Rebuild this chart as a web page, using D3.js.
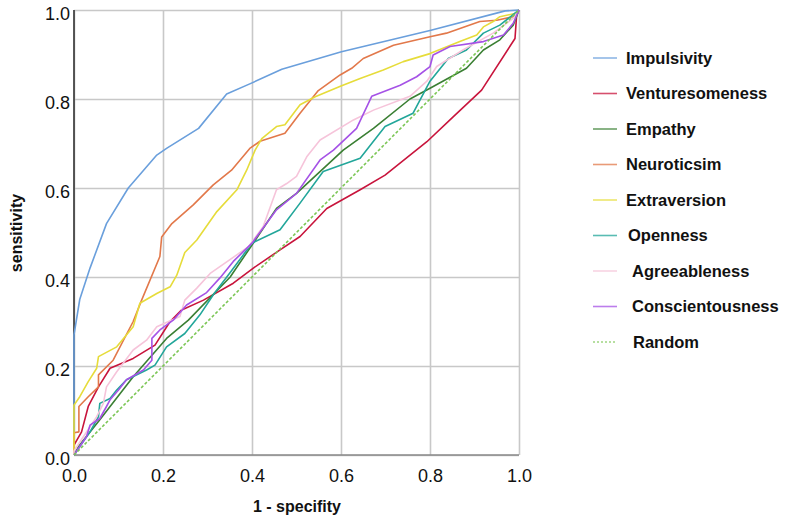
<!DOCTYPE html>
<meta charset="utf-8">
<style>
body { margin: 0; background: #fff; }
.grid line { stroke: #c8c8c8; stroke-width: 1.6; }
.grid path { display: none; }
.tick text { font-family: "Liberation Sans", Arial, sans-serif; font-size: 18px; fill: #111; }
.series { fill: none; stroke-width: 1.6; stroke-linejoin: round; }
.legend text { font-family: "Liberation Sans", Arial, sans-serif; font-weight: bold; font-size: 16.5px; fill: #111; }
.title { font-family: "Liberation Sans", Arial, sans-serif; font-weight: bold; font-size: 16px; fill: #111; }
</style>
<svg width="785" height="522"></svg>
<script src="https://cdn.jsdelivr.net/npm/d3@7"></script>
<script>

// ROC points [1 - specificity, sensitivity]
var impulsivity = [[0,0],[0,0.27],[0.013,0.35],[0.036,0.42],[0.073,0.52],[0.122,0.60],[0.186,0.674],[0.208,0.689],[0.28,0.734],[0.343,0.811],[0.395,0.834],[0.467,0.867],[0.601,0.906],[0.80,0.954],[0.969,0.998],[1,1]];
var venturesomeness = [[0,0],[0,0.022],[0.017,0.052],[0.032,0.109],[0.055,0.153],[0.081,0.195],[0.133,0.217],[0.182,0.247],[0.216,0.30],[0.242,0.326],[0.291,0.348],[0.358,0.386],[0.403,0.42],[0.463,0.461],[0.508,0.491],[0.568,0.554],[0.643,0.596],[0.699,0.629],[0.793,0.704],[0.852,0.76],[0.916,0.82],[0.991,0.936],[0.995,0.993],[1,1]];
var empathy = [[0,0],[0.01,0.019],[0.058,0.079],[0.133,0.176],[0.208,0.262],[0.257,0.303],[0.351,0.40],[0.40,0.472],[0.455,0.554],[0.50,0.588],[0.605,0.685],[0.673,0.734],[0.755,0.80],[0.80,0.824],[0.882,0.869],[0.92,0.91],[0.957,0.933],[0.987,0.966],[1,1]];
var neuroticsim = [[0,0],[0,0.05],[0.011,0.052],[0.011,0.109],[0.032,0.131],[0.055,0.153],[0.055,0.18],[0.088,0.213],[0.133,0.30],[0.152,0.348],[0.193,0.446],[0.197,0.49],[0.22,0.52],[0.268,0.562],[0.313,0.607],[0.354,0.64],[0.395,0.689],[0.418,0.705],[0.474,0.723],[0.508,0.768],[0.549,0.819],[0.598,0.854],[0.624,0.869],[0.65,0.891],[0.718,0.921],[0.80,0.94],[0.837,0.948],[0.912,0.974],[0.95,0.977],[0.987,0.985],[1,1]];
var extraversion = [[0,0],[0,0.112],[0.013,0.131],[0.032,0.165],[0.051,0.195],[0.055,0.221],[0.096,0.243],[0.133,0.288],[0.148,0.341],[0.186,0.363],[0.216,0.378],[0.231,0.404],[0.249,0.455],[0.276,0.483],[0.321,0.547],[0.366,0.596],[0.388,0.64],[0.407,0.685],[0.422,0.711],[0.455,0.738],[0.474,0.742],[0.508,0.787],[0.542,0.805],[0.60,0.829],[0.643,0.846],[0.695,0.865],[0.74,0.884],[0.80,0.902],[0.867,0.929],[0.905,0.944],[0.92,0.962],[0.942,0.974],[0.957,0.985],[0.995,0.993],[1,1]];
var openness = [[0,0],[0.013,0.019],[0.036,0.052],[0.055,0.086],[0.058,0.116],[0.081,0.127],[0.096,0.146],[0.118,0.169],[0.163,0.191],[0.182,0.202],[0.208,0.243],[0.249,0.273],[0.283,0.315],[0.313,0.36],[0.351,0.41],[0.40,0.476],[0.463,0.506],[0.508,0.566],[0.56,0.637],[0.643,0.667],[0.699,0.738],[0.762,0.768],[0.80,0.84],[0.841,0.891],[0.882,0.91],[0.92,0.948],[0.957,0.966],[1,1]];
var agreeableness = [[0,0],[0,0.009],[0.021,0.041],[0.051,0.086],[0.066,0.116],[0.073,0.153],[0.096,0.187],[0.133,0.236],[0.163,0.258],[0.186,0.288],[0.238,0.311],[0.249,0.348],[0.276,0.375],[0.306,0.408],[0.392,0.468],[0.425,0.513],[0.455,0.596],[0.478,0.61],[0.50,0.626],[0.523,0.67],[0.553,0.708],[0.628,0.753],[0.673,0.775],[0.755,0.806],[0.793,0.84],[0.815,0.873],[0.874,0.91],[0.942,0.948],[0.987,0.981],[1,1]];
var conscientousness = [[0,0],[0.013,0.019],[0.028,0.041],[0.036,0.067],[0.058,0.082],[0.073,0.109],[0.081,0.124],[0.10,0.146],[0.118,0.169],[0.156,0.191],[0.175,0.213],[0.175,0.262],[0.193,0.281],[0.223,0.303],[0.253,0.337],[0.298,0.365],[0.328,0.398],[0.358,0.435],[0.40,0.476],[0.455,0.551],[0.50,0.588],[0.553,0.663],[0.583,0.685],[0.635,0.734],[0.669,0.806],[0.733,0.831],[0.77,0.85],[0.80,0.873],[0.807,0.899],[0.845,0.918],[0.92,0.929],[0.965,0.944],[0.987,0.97],[1,1]];
var random = [[0,0],[1,1]];

var names = ["Impulsivity","Venturesomeness","Empathy","Neuroticsim","Extraversion","Openness","Agreeableness","Conscientousness","Random"];
var colors = ["#6a9fdc","#c8143c","#3a7f33","#e2784a","#e6dc3a","#22a69a","#f6c4da","#a552e6","#7cc655"];
var ticks = [0, 0.2, 0.4, 0.6, 0.8, 1.0];

var series = [impulsivity, venturesomeness, empathy, neuroticsim, extraversion, openness, agreeableness, conscientousness, random];

var svg = d3.select("svg"),
    margin = {top: 10, left: 74},
    width = 445,
    height = 445;

var x = d3.scaleLinear().domain([0, 1]).range([0, width]),
    y = d3.scaleLinear().domain([0, 1]).range([height, 0]);

var g = svg.append("g")
    .attr("transform", "translate(" + margin.left + "," + margin.top + ")");

// grid + tick labels
g.append("g")
    .attr("class", "grid")
    .attr("transform", "translate(0," + height + ")")
    .call(d3.axisBottom(x).tickValues(ticks).tickSize(-height).tickPadding(10).tickFormat(d3.format(".1f")))
    .selectAll("text").attr("dy", "0.95em");

g.append("g")
    .attr("class", "grid")
    .call(d3.axisLeft(y).tickValues(ticks).tickSize(-width).tickPadding(4).tickFormat(d3.format(".1f")))
    .selectAll("text").attr("dy", "0.55em");

// axis lines
g.append("line").attr("x1", 0).attr("x2", width).attr("y1", height).attr("y2", height)
    .attr("stroke", "#8a8a8a").attr("stroke-width", 1.6);
g.append("line").attr("x1", 0).attr("x2", 0).attr("y1", 0).attr("y2", height)
    .attr("stroke", "#333").attr("stroke-width", 1.6);

var line = d3.line()
    .x(function(d) { return x(d[0]); })
    .y(function(d) { return y(d[1]); });

g.selectAll(".series")
  .data(series)
  .enter().append("path")
    .attr("class", "series")
    .attr("stroke", function(d, i) { return colors[i]; })
    .attr("stroke-dasharray", function(d, i) { return names[i] === "Random" ? "3,2" : null; })
    .attr("d", line);

// axis titles
svg.append("text")
    .attr("class", "title")
    .attr("text-anchor", "middle")
    .attr("transform", "translate(22,233) rotate(-90)")
    .text("sensitivity");

svg.append("text")
    .attr("class", "title")
    .attr("text-anchor", "middle")
    .attr("x", 297)
    .attr("y", 512)
    .text("1 - specifity");

// legend
var legend = svg.append("g").attr("class", "legend");
var ly = d3.scalePoint().domain(names).range([58, 342]);
var indent = [0, 0, 0, 0, 0, 2, 6, 6, 7];

var item = legend.selectAll("g")
  .data(names)
  .enter().append("g")
    .attr("transform", function(d) { return "translate(0," + ly(d) + ")"; });

item.append("line")
    .attr("x1", 593).attr("x2", 617)
    .attr("stroke", function(d, i) { return colors[i]; })
    .attr("stroke-width", 1.6)
    .attr("stroke-opacity", 0.75)
    .attr("stroke-dasharray", function(d) { return d === "Random" ? "2,2" : null; });

item.append("text")
    .attr("x", function(d, i) { return 626 + indent[i]; })
    .attr("dy", "0.35em")
    .text(function(d) { return d; });

</script>
